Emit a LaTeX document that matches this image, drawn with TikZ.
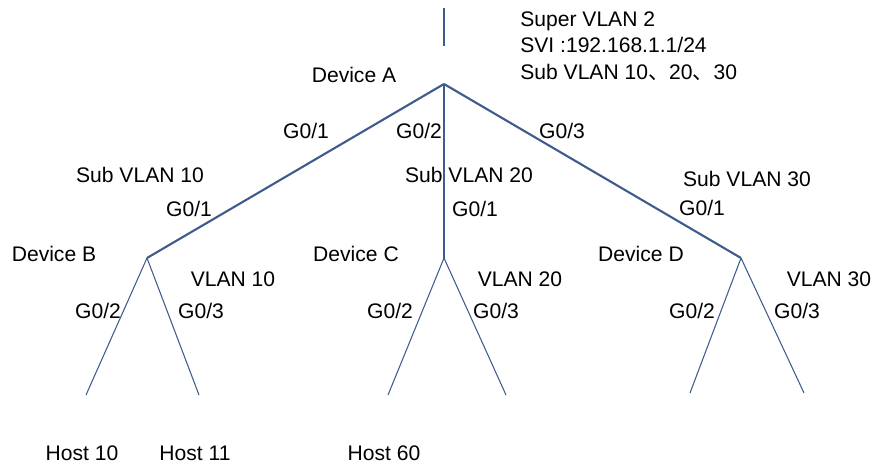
\documentclass[tikz,border=0pt]{standalone}
\usepackage{fontspec}
\setmainfont{Liberation Sans}
\newfontfamily\cjk{Noto Sans CJK SC}
\usepackage{xcolor}
\usetikzlibrary{positioning}
\definecolor{linkblue}{HTML}{3D5B8C}

\begin{document}
\begin{tikzpicture}[
  x=0.02cm,y=-0.02cm,
  font=\fontsize{12}{15.2}\selectfont,
  lbl/.style={inner sep=0pt},
  trunk/.style={draw=linkblue,line width=1.2pt},
  leg/.style={draw=linkblue,line width=0.6pt}
]
\useasboundingbox (0,0) rectangle (875,465);
% switches and free line ends
\coordinate (up) at (444,8);
\coordinate (A) at (444,84);
\coordinate (B) at (147,258);
\coordinate (C) at (444,258);
\coordinate (D) at (741,258);
\coordinate (b1) at (86,395);
\coordinate (b2) at (199,395);
\coordinate (c1) at (388,395);
\coordinate (c2) at (506,395);
\coordinate (d1) at (690,393);
\coordinate (d2) at (804,393);
\coordinate (upend) at (444,46);

% links
\draw[leg] (up)--(upend);
\draw[trunk] (A)--(B);
\draw[trunk] (A)--(D);
\draw[leg] (A)--(C);
\draw[leg] (B)--(b1);
\draw[leg] (B)--(b2);
\draw[leg] (C)--(c1);
\draw[leg] (C)--(c2);
\draw[leg] (D)--(d1);
\draw[leg] (D)--(d2);

% texts
\node[lbl,align=left,anchor=west] (svi) at (520,46) {Super VLAN 2\\SVI :192.168.1.1/24\\Sub VLAN 10{\cjk 、}20{\cjk 、}30};
\node[lbl] (devA) at (354,75) {Device A};
\node[lbl] (a1) at (306,131) {G0/1};
\node[lbl] (a2) at (419,131) {G0/2};
\node[lbl] (a3) at (562,131) {G0/3};
\node[lbl] (sub10) at (140,175) {Sub VLAN 10};
\node[lbl] (sub20) at (469,175) {Sub VLAN 20};
\node[lbl] (sub30) at (747,179) {Sub VLAN 30};
\node[lbl] (bup) at (189,209) {G0/1};
\node[lbl] (cup) at (475,209) {G0/1};
\node[lbl] (dup) at (702,208) {G0/1};
\node[lbl] (devB) at (54,254) {Device B};
\node[lbl] (devC) at (356,254) {Device C};
\node[lbl] (devD) at (641,254) {Device D};
\node[lbl] (v10) at (233,279) {VLAN 10};
\node[lbl] (v20) at (520,279) {VLAN 20};
\node[lbl] (v30) at (829,279) {VLAN 30};
\node[lbl] (bp2) at (98,311) {G0/2};
\node[lbl] (bp3) at (201,311) {G0/3};
\node[lbl] (cp2) at (390,311) {G0/2};
\node[lbl] (cp3) at (496,311) {G0/3};
\node[lbl] (dp2) at (692,311) {G0/2};
\node[lbl] (dp3) at (797,311) {G0/3};
\node[lbl] (h10) at (82,453) {Host 10};
\node[lbl] (h11) at (195,453) {Host 11};
\node[lbl] (h60) at (384,453) {Host 60};
\end{tikzpicture}
\end{document}
